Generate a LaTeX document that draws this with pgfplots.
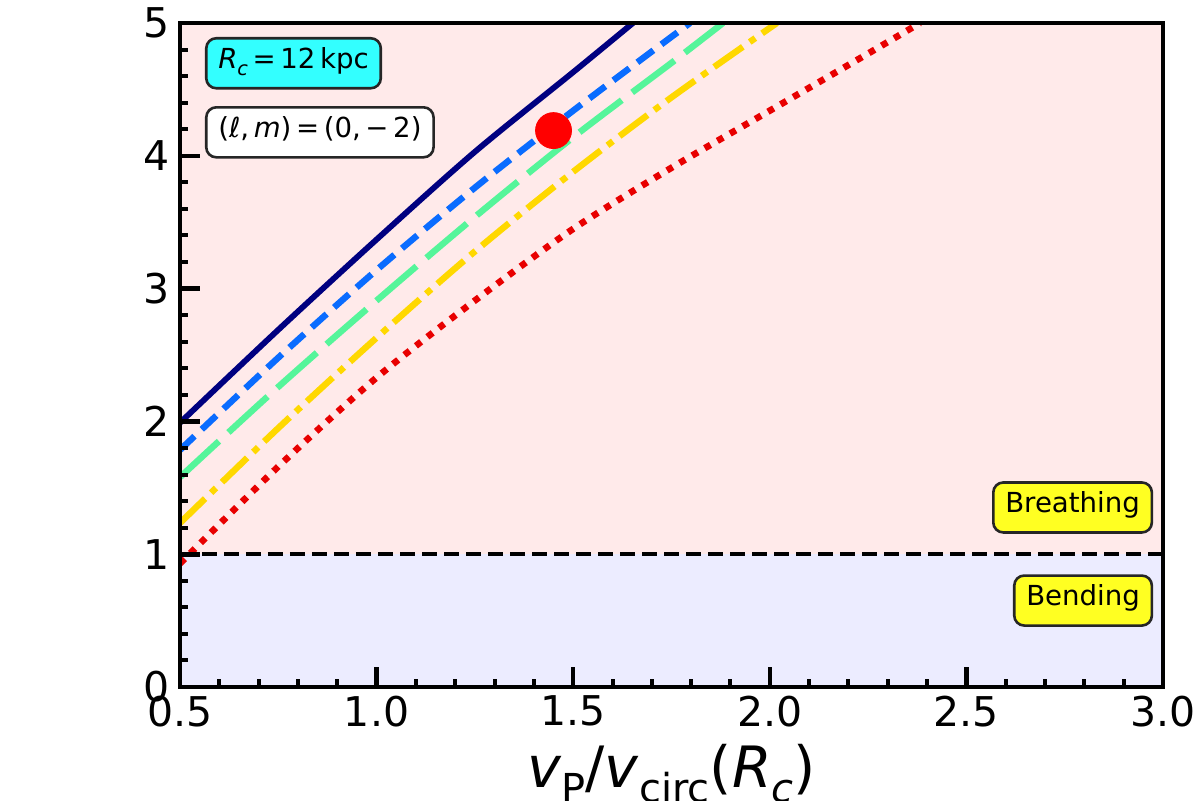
\documentclass[border=0pt]{standalone}
\usepackage{pgfplots}
\pgfplotsset{compat=1.18}
\usepackage{fontspec}
\setmainfont{DejaVu Sans}
\usepackage{graphicx}
\definecolor{pinkbg}{RGB}{255,234,234}
\definecolor{lavbg}{RGB}{236,236,255}
\definecolor{cnavy}{RGB}{0,0,128}
\definecolor{cblue}{HTML}{0A6CFF}
\definecolor{cgreen}{HTML}{55F59A}
\definecolor{cyellow}{HTML}{FFD800}
\definecolor{cred}{HTML}{E80000}
\definecolor{cyanbox}{HTML}{33FFFF}
\definecolor{yelbox}{HTML}{FFFF22}
\newcommand{\sub}[1]{\raisebox{-0.28em}{\scalebox{0.7}{#1}}}
\tikzset{lbox/.style={rounded corners=5pt, draw=black!85, line width=1.3pt, inner xsep=6pt, inner ysep=7.5pt, text height=0.75em, text depth=0.25em, font=\fontsize{13.8}{16}\selectfont}}
\begin{document}
\begin{tikzpicture}
\begin{axis}[name=ax, at={(0,0)}, anchor=south west,
  scale only axis, width=491.5pt, height=332pt,
  xmin=0.5, xmax=3, ymin=0, ymax=5,
  axis on top,
  axis line style={line width=2.3pt},
  tick pos=left,
  xtick={0.5,1,1.5,2,2.5,3}, ytick={0,1,2,3,4,5},
  minor x tick num=4, minor y tick num=4,
  major tick length=10pt, minor tick length=4pt,
  major tick style={line width=2.3pt, black},
  minor tick style={line width=2pt, black},
  tick label style={font=\fontsize{20.5}{24}\selectfont},
  /pgf/number format/assume math mode=true,
  xticklabel style={/pgf/number format/.cd, fixed, fixed zerofill, precision=1, /tikz/.cd, yshift=-1pt},
  yticklabel style={xshift=-1.6pt},
  xlabel={\textit{v}\sub{P}/\textit{v}\sub{circ}(\textit{R}\sub{\textit{c}})},
  xlabel style={at={(axis description cs:0.5,0)}, anchor=base, yshift=-50pt, font=\fontsize{28.5}{32}\selectfont},
]
% backgrounds
\addplot[draw=none, fill=pinkbg, forget plot] coordinates {(0.5,1) (3,1) (3,5) (0.5,5) (0.5,1)};
\addplot[draw=none, fill=lavbg, forget plot] coordinates {(0.5,0) (3,0) (3,1) (0.5,1) (0.5,0)};
% boundary
\addplot[black, line width=2.1pt, dash pattern=on 7.5pt off 3.5pt] coordinates {(0.5,1) (3,1)};
% curves
\addplot[cnavy, line width=2.9pt, smooth] coordinates {(0.5,1.99) (0.75,2.69) (1.0,3.37) (1.25,4.03) (1.5,4.63) (1.652,5.0)};
\addplot[cgreen, line width=3.2pt, smooth, dash pattern=on 26.5pt off 6.5pt] coordinates {(0.5,1.58) (0.75,2.26) (1.0,2.91) (1.25,3.54) (1.5,4.14) (1.75,4.70) (1.881,5.0)};
\addplot[cyellow, line width=3.2pt, smooth, dash pattern=on 17.5pt off 4.2pt on 3.4pt off 4.2pt] coordinates {(0.5,1.235) (0.75,1.95) (1.0,2.63) (1.25,3.28) (1.5,3.88) (1.75,4.44) (2.018,5.0)};
\addplot[cred, line width=3.3pt, smooth, dash pattern=on 3.3pt off 4pt] coordinates {(0.5,0.93) (0.75,1.66) (1.0,2.33) (1.25,2.91) (1.5,3.45) (1.75,3.91) (2.0,4.34) (2.25,4.77) (2.382,5.0)};
% marker
\addplot[only marks, mark=*, mark size=9pt, mark options={fill=red, draw=red}] coordinates {(1.45,4.19)};
\addplot[cblue, line width=3.2pt, smooth, dash pattern=on 10pt off 5pt] coordinates {(0.5,1.785) (0.75,2.48) (1.0,3.14) (1.25,3.76) (1.5,4.34) (1.797,5.0)};
% labels
\node[lbox, fill=cyanbox, anchor=north west] at (rel axis cs:0.0254,0.979) {\textit{R}\sub{\textit{c}}\,=\,12\,kpc};
\node[lbox, fill=white, anchor=north west] at (rel axis cs:0.0254,0.875) {(\textit{ℓ},\,\textit{m})\,=\,(0,\,−\,2)};
\node[lbox, fill=yelbox, anchor=east] at (axis cs:2.975,1.352) {Breathing};
\node[lbox, fill=yelbox, anchor=east] at (axis cs:2.975,0.651) {Bending};
\end{axis}
\pgfresetboundingbox
\path (-90pt,-56.5pt) rectangle (510pt,343.5pt);
\end{tikzpicture}
\end{document}
